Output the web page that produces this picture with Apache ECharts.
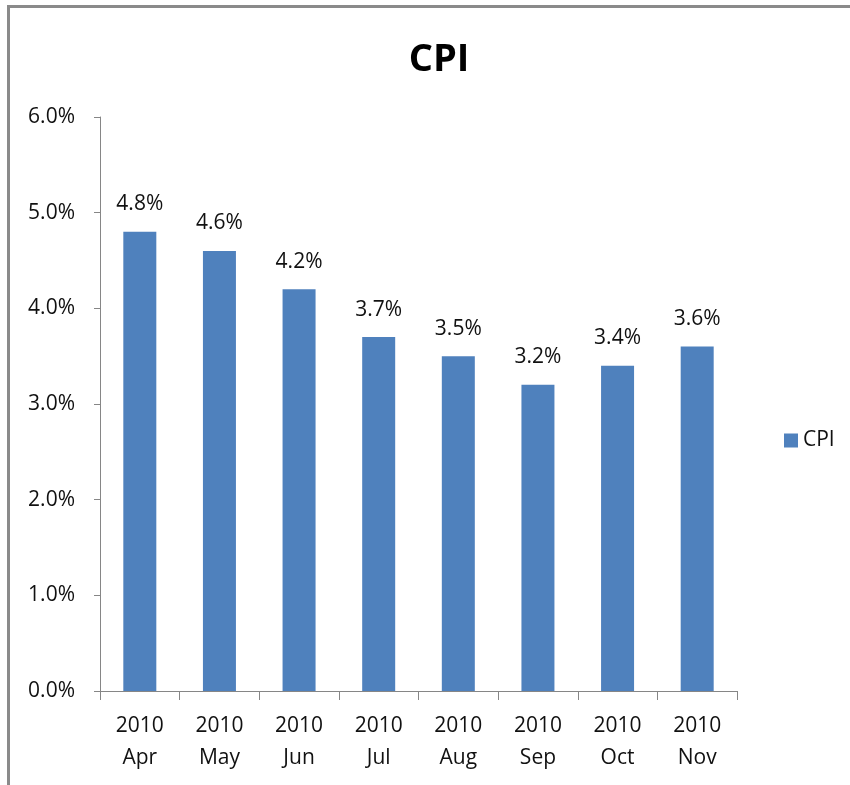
<!DOCTYPE html>
<html>
<head>
<meta charset="utf-8">
<script src="https://cdn.jsdelivr.net/npm/echarts@6/dist/echarts.min.js"></script>
<style>
  html, body { margin: 0; padding: 0; background: #fff; }
  #frame { position: absolute; left: 0; top: 0; width: 850px; height: 785px; overflow: hidden; }
  #border { position: absolute; left: 7px; top: 5px; width: 860px; height: 800px; border-top: 3px solid #8a8a8a; border-left: 3px solid #8a8a8a; }
  #chart { position: absolute; left: 0; top: 0; width: 850px; height: 785px; }
</style>
</head>
<body>
<div id="frame">
  <div id="border"></div>
  <div id="chart"></div>
</div>
<script>
const years = ['2010', '2010', '2010', '2010', '2010', '2010', '2010', '2010'];
const months = ['Apr', 'May', 'Jun', 'Jul', 'Aug', 'Sep', 'Oct', 'Nov'];
const cpiValues = [4.8, 4.6, 4.2, 3.7, 3.5, 3.2, 3.4, 3.6];
const seriesName = 'CPI';
const titleText = 'CPI';

const categories = years.map((y, i) => y + '\n' + months[i]);
const font = '"Open Sans", "Liberation Sans", sans-serif';

const chart = echarts.init(document.getElementById('chart'), null, { renderer: 'canvas' });
chart.setOption({
  backgroundColor: 'transparent',
  animation: false,
  title: {
    text: titleText,
    left: 434, top: 36,
    textAlign: 'center',
    textStyle: { fontFamily: font, fontSize: 38, fontWeight: 'bold', color: '#000' }
  },
  legend: {
    data: [seriesName],
    orient: 'vertical',
    left: 779, top: 425,
    icon: 'rect',
    itemWidth: 14, itemHeight: 14, itemGap: 8,
    textStyle: { fontFamily: font, fontSize: 21, color: '#111' }
  },
  grid: { left: 100, right: 113, top: 117, bottom: 94, containLabel: false },
  xAxis: {
    type: 'category',
    data: categories,
    boundaryGap: true,
    axisLine: { lineStyle: { color: '#868686', width: 1 } },
    axisTick: { show: true, length: 9, lineStyle: { color: '#868686' } },
    axisLabel: { fontFamily: font, fontSize: 21, color: '#111', lineHeight: 32, margin: 19, interval: 0 }
  },
  yAxis: {
    type: 'value',
    min: 0, max: 6, interval: 1,
    axisLine: { show: true, lineStyle: { color: '#868686', width: 1 } },
    axisTick: { show: true, length: 6, lineStyle: { color: '#868686' } },
    splitLine: { show: false },
    axisLabel: {
      fontFamily: font, fontSize: 21, color: '#111', margin: 25,
      formatter: v => v.toFixed(1) + '%'
    }
  },
  series: [{
    name: seriesName,
    type: 'bar',
    data: cpiValues,
    barWidth: 33,
    itemStyle: { color: '#4F81BD' },
    label: {
      show: true, position: 'top', distance: 17,
      fontFamily: font, fontSize: 21, color: '#111',
      formatter: p => p.value.toFixed(1) + '%'
    }
  }]
});
</script>
</body>
</html>
